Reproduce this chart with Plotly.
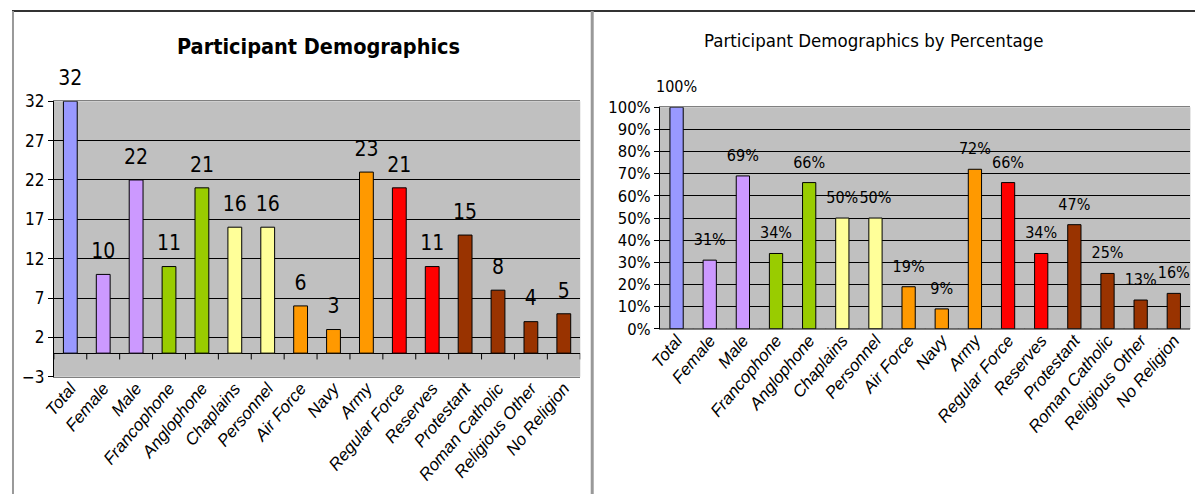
import plotly.graph_objects as go

categories = ["Total", "Female", "Male", "Francophone", "Anglophone", "Chaplains",
              "Personnel", "Air Force", "Navy", "Army", "Regular Force", "Reserves",
              "Protestant", "Roman Catholic", "Religious Other", "No Religion"]
counts = [32, 10, 22, 11, 21, 16, 16, 6, 3, 23, 21, 11, 15, 8, 4, 5]
percents = [1.00, 0.31, 0.69, 0.34, 0.66, 0.50, 0.50, 0.19, 0.09, 0.72, 0.66, 0.34,
            0.47, 0.25, 0.13, 0.16]
bar_colors = ["#9999FF", "#CC99FF", "#CC99FF", "#99CC00", "#99CC00", "#FFFF99",
              "#FFFF99", "#FF9900", "#FF9900", "#FF9900", "#FF0000", "#FF0000",
              "#993300", "#993300", "#993300", "#993300"]

W, H = 1195, 504
NARROW = "DejaVu Sans Condensed, Liberation Sans Narrow, Arial Narrow, Liberation Sans, Arial"
ARIAL = "Liberation Sans, Arial"

# mapping from target picture pixels to page pixels (measured from test renders)
OX, OY, SX, SY = 8.0, 8.6, 0.993, 0.962


def px_x(x):
    return max(0.0, (x - OX) / SX) / W


def px_y(y):
    return 1 - max(0.0, (y - OY) / SY) / H


n = len(categories)
cat_range = [-0.5, n - 0.5]

fig = go.Figure()

fig.add_trace(go.Bar(
    x=categories, y=counts, xaxis="x", yaxis="y",
    marker=dict(color=bar_colors, line=dict(color="#000000", width=1)),
    width=0.42, showlegend=False, hoverinfo="x+y",
))
fig.add_trace(go.Scatter(
    x=categories, y=counts, xaxis="x", yaxis="y", mode="markers+text",
    marker=dict(size=16, opacity=0), text=[str(v) for v in counts],
    textposition="top center", cliponaxis=False,
    textfont=dict(family=NARROW, size=21, color="#000000"),
    showlegend=False, hoverinfo="skip",
))

fig.add_trace(go.Bar(
    x=categories, y=percents, xaxis="x2", yaxis="y2",
    marker=dict(color=bar_colors, line=dict(color="#000000", width=1)),
    width=0.4, showlegend=False, hoverinfo="x+y",
))
fig.add_trace(go.Scatter(
    x=categories, y=percents, xaxis="x2", yaxis="y2", mode="markers+text",
    marker=dict(size=16, opacity=0), text=[f"{round(v*100)}%" for v in percents],
    textposition="top center", cliponaxis=False,
    textfont=dict(family=NARROW, size=16, color="#000000"),
    showlegend=False, hoverinfo="skip",
))

xaxis_common = dict(
    type="category", range=cat_range, autorange=False,
    tickangle=-50, showgrid=False, ticks="", ticklabelstandoff=-6,
    tickfont=dict(family=ARIAL, size=17, color="#000000", style="italic"),
    showline=True, linecolor="#808080", linewidth=1, mirror=True,
)

fig.update_layout(
    width=W, height=H,
    autosize=False,
    margin=dict(l=0, r=0, t=0, b=0),
    paper_bgcolor="#FFFFFF",
    plot_bgcolor="#C0C0C0",
    xaxis=dict(domain=[px_x(50), px_x(578)], anchor="y", **xaxis_common),
    yaxis=dict(domain=[px_y(376), px_y(100)], anchor="x", range=[-3, 32], tick0=-3, dtick=5,
               showgrid=True, gridcolor="#000000", gridwidth=1,
               zeroline=True, zerolinecolor="#000000", zerolinewidth=1,
               ticks="outside", ticklen=5, tickcolor="#000000",
               tickfont=dict(family=NARROW, size=17, color="#000000"),
               showline=True, linecolor="#000000", linewidth=1, mirror=False),
    xaxis2=dict(domain=[px_x(658), px_x(1190)], anchor="y2", **xaxis_common),
    yaxis2=dict(domain=[px_y(328), px_y(106)], anchor="x2", range=[0, 1], dtick=0.1,
                tickformat=".0%",
                showgrid=True, gridcolor="#000000", gridwidth=1,
                zeroline=False,
                ticks="outside", ticklen=5, tickcolor="#000000",
                tickfont=dict(family=NARROW, size=16.5, color="#000000"),
                showline=True, linecolor="#000000", linewidth=1, mirror=False),
)

# category tick marks on the category axis (at 0) for both charts
shapes = []
for i in range(n + 1):
    shapes.append(dict(type="line", xref="x", yref="y", x0=i - 0.5, x1=i - 0.5,
                       y0=0, y1=-0.8, line=dict(color="#000000", width=1)))
    shapes.append(dict(type="line", xref="x2", yref="y2", x0=i - 0.5, x1=i - 0.5,
                       y0=0, y1=-0.025, line=dict(color="#000000", width=1)))
shapes.append(dict(type="line", xref="x2", yref="y2", x0=-0.5, x1=n - 0.5,
                   y0=0, y1=0, line=dict(color="#000000", width=1)))

# panel frames
top_y = 1 - 1.0 / H
shapes.append(dict(type="line", xref="paper", yref="paper", x0=0, x1=1,
                   y0=top_y, y1=top_y, line=dict(color="#333333", width=2)))
shapes.append(dict(type="line", xref="paper", yref="paper", x0=1.0 / W, x1=1.0 / W,
                   y0=0, y1=top_y, line=dict(color="#999999", width=2)))
shapes.append(dict(type="line", xref="paper", yref="paper", x0=px_x(590), x1=px_x(590),
                   y0=0, y1=top_y, line=dict(color="#999999", width=3)))
fig.update_layout(shapes=shapes)

fig.add_annotation(text="<b>Participant Demographics</b>", xref="paper", yref="paper",
                   x=px_x(315), y=px_y(45), xanchor="center", yanchor="middle",
                   showarrow=False,
                   font=dict(family=NARROW, size=21.5, color="#000000"))
fig.add_annotation(text="Participant Demographics by Percentage", xref="paper", yref="paper",
                   x=px_x(872), y=px_y(39), xanchor="center", yanchor="middle",
                   showarrow=False,
                   font=dict(family=NARROW, size=18.5, color="#000000"))

fig.write_html(
    "out.html",
    config={"displayModeBar": False, "responsive": False},
    post_script="var gd=document.getElementById('{plot_id}');"
                "gd.style.position='fixed';gd.style.left='0px';gd.style.top='0px';"
                "document.documentElement.style.margin='0px';"
                "document.body.style.margin='0px';document.body.style.padding='0px';"
                "document.documentElement.style.overflow='hidden';"
                "document.body.style.overflow='hidden';",
)
